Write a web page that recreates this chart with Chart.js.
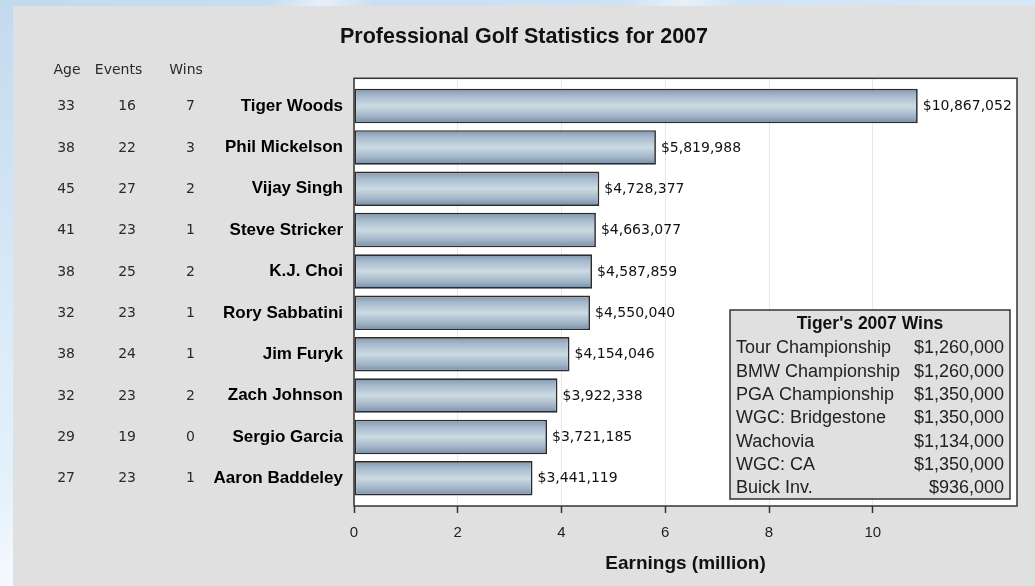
<!DOCTYPE html>
<html>
<head>
<meta charset="utf-8">
<script src="https://cdn.jsdelivr.net/npm/chart.js@4.4.1/dist/chart.umd.min.js"></script>
<style>
  html, body { margin: 0; padding: 0; width: 1035px; height: 586px; overflow: hidden; }
  body {
    background:
      linear-gradient(118deg, rgba(255,255,255,0) 20%, rgba(255,255,255,.55) 24%, rgba(255,255,255,0) 28%),
      linear-gradient(100deg, rgba(255,255,255,0) 55%, rgba(255,255,255,.5) 60%, rgba(255,255,255,0) 65%),
      linear-gradient(165deg, #c3d9ed 0%, #d9eaf7 35%, #eaf4fb 65%, #c9dff1 100%);
  }
  #panel { position: absolute; left: 13px; top: 6px; right: 0; bottom: 0; background: #e0e0e0; }
  #golf-chart { position: absolute; left: 0; top: 0; }
</style>
</head>
<body>
<div id="panel"></div>
<canvas id="golf-chart" width="1035" height="586"></canvas>
<script>
const names = ['Tiger Woods', 'Phil Mickelson', 'Vijay Singh', 'Steve Stricker', 'K.J. Choi',
               'Rory Sabbatini', 'Jim Furyk', 'Zach Johnson', 'Sergio Garcia', 'Aaron Baddeley'];
const earnings = [10867052, 5819988, 4728377, 4663077, 4587859, 4550040, 4154046, 3922338, 3721185, 3441119];
const ages = [33, 38, 45, 41, 38, 32, 38, 32, 29, 27];
const events = [16, 22, 27, 23, 25, 23, 24, 23, 19, 23];
const wins = [7, 3, 2, 1, 2, 1, 1, 2, 0, 1];
const earningTicks = [0, 2, 4, 6, 8, 10];

const tigerEvents = ['Tour Championship', 'BMW Championship', 'PGA Championship', 'WGC: Bridgestone',
                     'Wachovia', 'WGC: CA', 'Buick Inv.'];
const tigerPurses = [1260000, 1260000, 1350000, 1350000, 1134000, 1350000, 936000];

const chartTitle = 'Professional Golf Statistics for 2007';
const BAR_PCT = 0.834;
const dollars = v => '$' + v.toLocaleString('en-US');
const sans = '"Liberation Sans", Arial, sans-serif';
const dejavu = '"DejaVu Sans", sans-serif';

function barGradient(ctx) {
    const chart = ctx.chart;
    const y = chart.scales.y;
    if (!chart.chartArea || ctx.dataIndex === undefined || !y) return '#b8c8d6';
    const c = y.getPixelForValue(ctx.dataIndex);
    const h = Math.abs(y.getPixelForValue(1) - y.getPixelForValue(0)) * BAR_PCT / 2;
    const g = chart.ctx.createLinearGradient(0, c - h, 0, c + h);
    g.addColorStop(0, '#7f94ae');
    g.addColorStop(0.2, '#a6b9cc');
    g.addColorStop(0.5, '#ccdbe2');
    g.addColorStop(0.8, '#a0b3c7');
    g.addColorStop(1, '#768aa3');
    return g;
}

// white plot area, frame, title, stats table, value labels and the inset box
const extras = {
    id: 'extras',
    beforeDraw(chart) {
        const { ctx, chartArea: a } = chart;
        ctx.save();
        ctx.fillStyle = '#ffffff';
        ctx.fillRect(a.left, a.top, a.right - a.left, a.bottom - a.top);
        ctx.restore();
    },
    afterDatasetsDraw(chart) {
        const { ctx, chartArea: a } = chart;
        ctx.save();
        ctx.strokeStyle = '#333333';
        ctx.lineWidth = 1.5;
        ctx.strokeRect(a.left, a.top, a.right - a.left, a.bottom - a.top);
        ctx.restore();
    },
    afterDraw(chart) {
        const { ctx, chartArea: a } = chart;
        const x = chart.scales.x, y = chart.scales.y;
        ctx.save();

        // title, centred over the grey panel
        ctx.font = 'bold 21.5px ' + sans;
        ctx.fillStyle = '#111111';
        ctx.textAlign = 'center';
        ctx.textBaseline = 'alphabetic';
        ctx.fillText(chartTitle, (13 + chart.width) / 2, 42.7);

        // value labels at the bar ends
        ctx.font = '14px ' + dejavu;
        ctx.fillStyle = '#111111';
        ctx.textAlign = 'left';
        ctx.textBaseline = 'middle';
        earnings.forEach((v, i) => {
            ctx.fillText(dollars(v), x.getPixelForValue(v / 1e6) + 5, y.getPixelForValue(i) + 0.5);
        });

        // Age / Events / Wins columns
        const cols = [
            { head: 'Age', hx: 67, rx: 75, vals: ages },
            { head: 'Events', hx: 118.5, rx: 136, vals: events },
            { head: 'Wins', hx: 186, rx: 195, vals: wins }
        ];
        ctx.font = '14px ' + dejavu;
        ctx.fillStyle = '#2a2a2a';
        cols.forEach(col => {
            ctx.textAlign = 'center';
            ctx.textBaseline = 'alphabetic';
            ctx.fillText(col.head, col.hx, a.top - 4);
            ctx.textAlign = 'right';
            ctx.textBaseline = 'middle';
            col.vals.forEach((v, i) => ctx.fillText(String(v), col.rx, y.getPixelForValue(i) + 0.5));
        });

        // inset with Tiger's wins
        const bw = 280, bh = 189;
        const bx = a.right - 7 - bw, by = a.bottom - 7 - bh;
        ctx.fillStyle = '#e0e0e0';
        ctx.fillRect(bx, by, bw, bh);
        ctx.strokeStyle = '#333333';
        ctx.lineWidth = 1.5;
        ctx.strokeRect(bx, by, bw, bh);

        ctx.fillStyle = '#111111';
        ctx.font = 'bold 17.5px ' + sans;
        ctx.textAlign = 'center';
        ctx.textBaseline = 'alphabetic';
        ctx.fillText("Tiger's 2007 Wins", bx + bw / 2, by + 19);

        ctx.font = '18px ' + sans;
        ctx.fillStyle = '#222222';
        tigerEvents.forEach((ev, i) => {
            const ty = by + 43.3 + i * 23.3;
            ctx.textAlign = 'left';
            ctx.fillText(ev, bx + 6, ty);
            ctx.textAlign = 'right';
            ctx.fillText(dollars(tigerPurses[i]), bx + bw - 6, ty);
        });
        ctx.restore();
    }
};

new Chart(document.querySelector('#golf-chart').getContext('2d'), {
    type: 'bar',
    data: {
        datasets: [{
            label: 'Earnings',
            data: earnings.map((v, i) => ({ x: v / 1e6, y: i })),
            backgroundColor: barGradient,
            borderColor: '#2c2c2c',
            borderWidth: 1.7,
            borderSkipped: false,
            barPercentage: BAR_PCT,
            categoryPercentage: 1
        }]
    },
    options: {
        indexAxis: 'y',
        responsive: false,
        animation: false,
        devicePixelRatio: 1,
        layout: { padding: { left: 13, top: 78.3, right: 18, bottom: 0 } },
        plugins: {
            legend: { display: false },
            tooltip: { enabled: false },
            title: { display: false }
        },
        scales: {
            x: {
                type: 'linear',
                min: 0,
                max: 12.78,
                afterFit: s => { s.height = 80; },
                afterBuildTicks: s => { s.ticks = earningTicks.map(v => ({ value: v })); },
                border: { display: false },
                grid: { color: '#e8e8e8', lineWidth: 1, tickColor: '#333333', tickWidth: 1.5, tickLength: 7 },
                ticks: { color: '#222222', padding: 10.5, font: { family: sans, size: 15 } },
                title: {
                    display: true,
                    text: 'Earnings (million)',
                    color: '#111111',
                    font: { family: sans, size: 19, weight: 'bold' },
                    padding: { top: 0, bottom: 11 }
                }
            },
            y: {
                type: 'linear',
                reverse: true,
                offset: false,
                min: -0.67,
                max: 9.67,
                afterFit: s => { s.width = 341; },
                afterBuildTicks: s => { s.ticks = names.map((n, i) => ({ value: i })); },
                border: { display: false },
                grid: { display: false, drawTicks: false },
                ticks: {
                    autoSkip: false,
                    padding: 11,
                    color: '#000000',
                    font: { family: sans, size: 17, weight: 'bold' },
                    callback: v => names[v]
                }
            }
        }
    },
    plugins: [extras]
});
</script>
</body>
</html>
